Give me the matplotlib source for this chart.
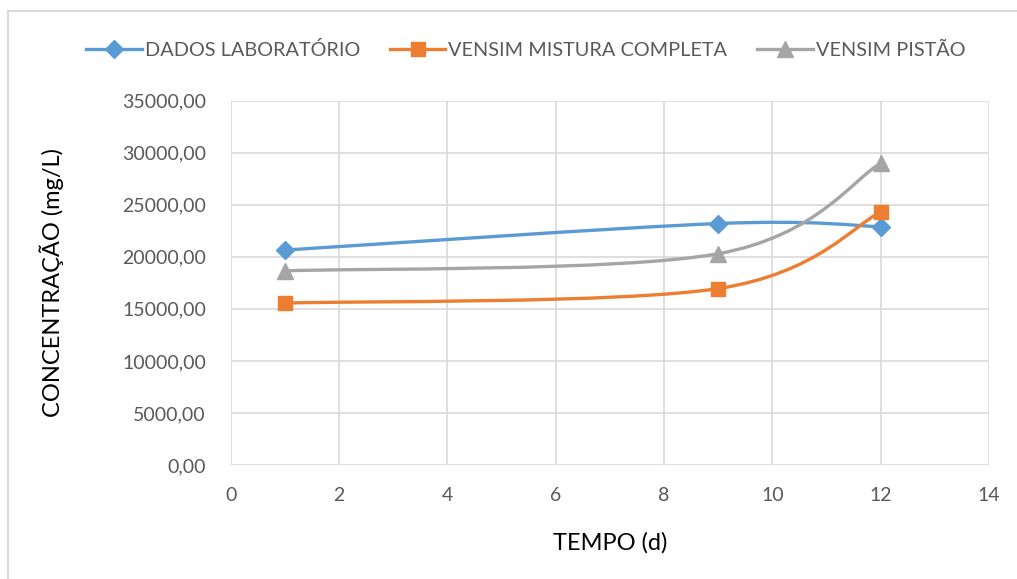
import numpy as np
import matplotlib.pyplot as plt
from matplotlib.path import Path
from matplotlib.patches import PathPatch, Rectangle
from matplotlib.lines import Line2D
from matplotlib.ticker import FuncFormatter

plt.rcParams['font.family'] = ['Lato', 'DejaVu Sans']

# dados
tempo = [1, 9, 12]
dados_lab = [20650, 23200, 22900]
mistura_completa = [15550, 16950, 24300]
pistao = [18650, 20300, 29000]

series = [
    ('DADOS LABORATÓRIO', dados_lab, '#5b9bd5', 'D', 9),
    ('VENSIM MISTURA COMPLETA', mistura_completa, '#ed7d31', 's', 10.5),
    ('VENSIM PISTÃO', pistao, '#a5a5a5', '^', 11),
]


def smooth_path(xs, ys):
    # curva suavizada tipo Excel (bezier catmull-rom)
    pts = np.column_stack([xs, ys]).astype(float)
    ext = np.vstack([pts[0], pts, pts[-1]])
    verts = [pts[0]]
    codes = [Path.MOVETO]
    for i in range(1, len(ext) - 2):
        p0, p1, p2, p3 = ext[i - 1], ext[i], ext[i + 1], ext[i + 2]
        c1 = p1 + (p2 - p0) / 6
        c2 = p2 - (p3 - p1) / 6
        verts += [c1, c2, p2]
        codes += [Path.CURVE4] * 3
    return Path(verts, codes)


fig = plt.figure(figsize=(10.17, 5.79), dpi=100)
ax = fig.add_axes([0.227, 0.197, 0.7455, 0.629])

handles = []
for nome, vals, cor, mk, ms in series:
    ax.add_patch(PathPatch(smooth_path(tempo, vals), facecolor='none',
                           edgecolor=cor, lw=2.4, capstyle='round', zorder=3))
    ax.plot(tempo, vals, linestyle='none', marker=mk, color=cor, ms=ms, zorder=4)
    handles.append(Line2D([], [], color=cor, lw=2.4, marker=mk, ms=ms, label=nome))

ax.set_xlim(0, 14)
ax.set_ylim(0, 35000)
ax.set_xticks(range(0, 15, 2))
ax.set_yticks(range(0, 35001, 5000))
ax.yaxis.set_major_formatter(FuncFormatter(lambda v, p: f'{v:.2f}'.replace('.', ',')))
ax.grid(True, color='#d9d9d9', lw=1.2)
ax.set_axisbelow(True)
for s in ax.spines.values():
    s.set_visible(False)
ax.tick_params(length=0, labelsize=14, labelcolor='#595959')
ax.tick_params(axis='y', pad=18)
ax.tick_params(axis='x', pad=16)

ax.set_xlabel('TEMPO (d)', fontsize=17, labelpad=20)
ax.set_ylabel('CONCENTRAÇÃO (mg/L)', fontsize=17, labelpad=42)

fig.legend(handles=handles, loc='center', bbox_to_anchor=(0.517, 0.914), ncol=3,
           frameon=False, fontsize=14.3, handlelength=2.8, columnspacing=1.5,
           handletextpad=0.15, labelcolor='#595959')

fig.patches.append(Rectangle((0.008, -0.1), 1.2, 1.081, transform=fig.transFigure,
                             fill=False, edgecolor='#d9d9d9', lw=1.5))

fig.savefig('out.png', dpi=100)
